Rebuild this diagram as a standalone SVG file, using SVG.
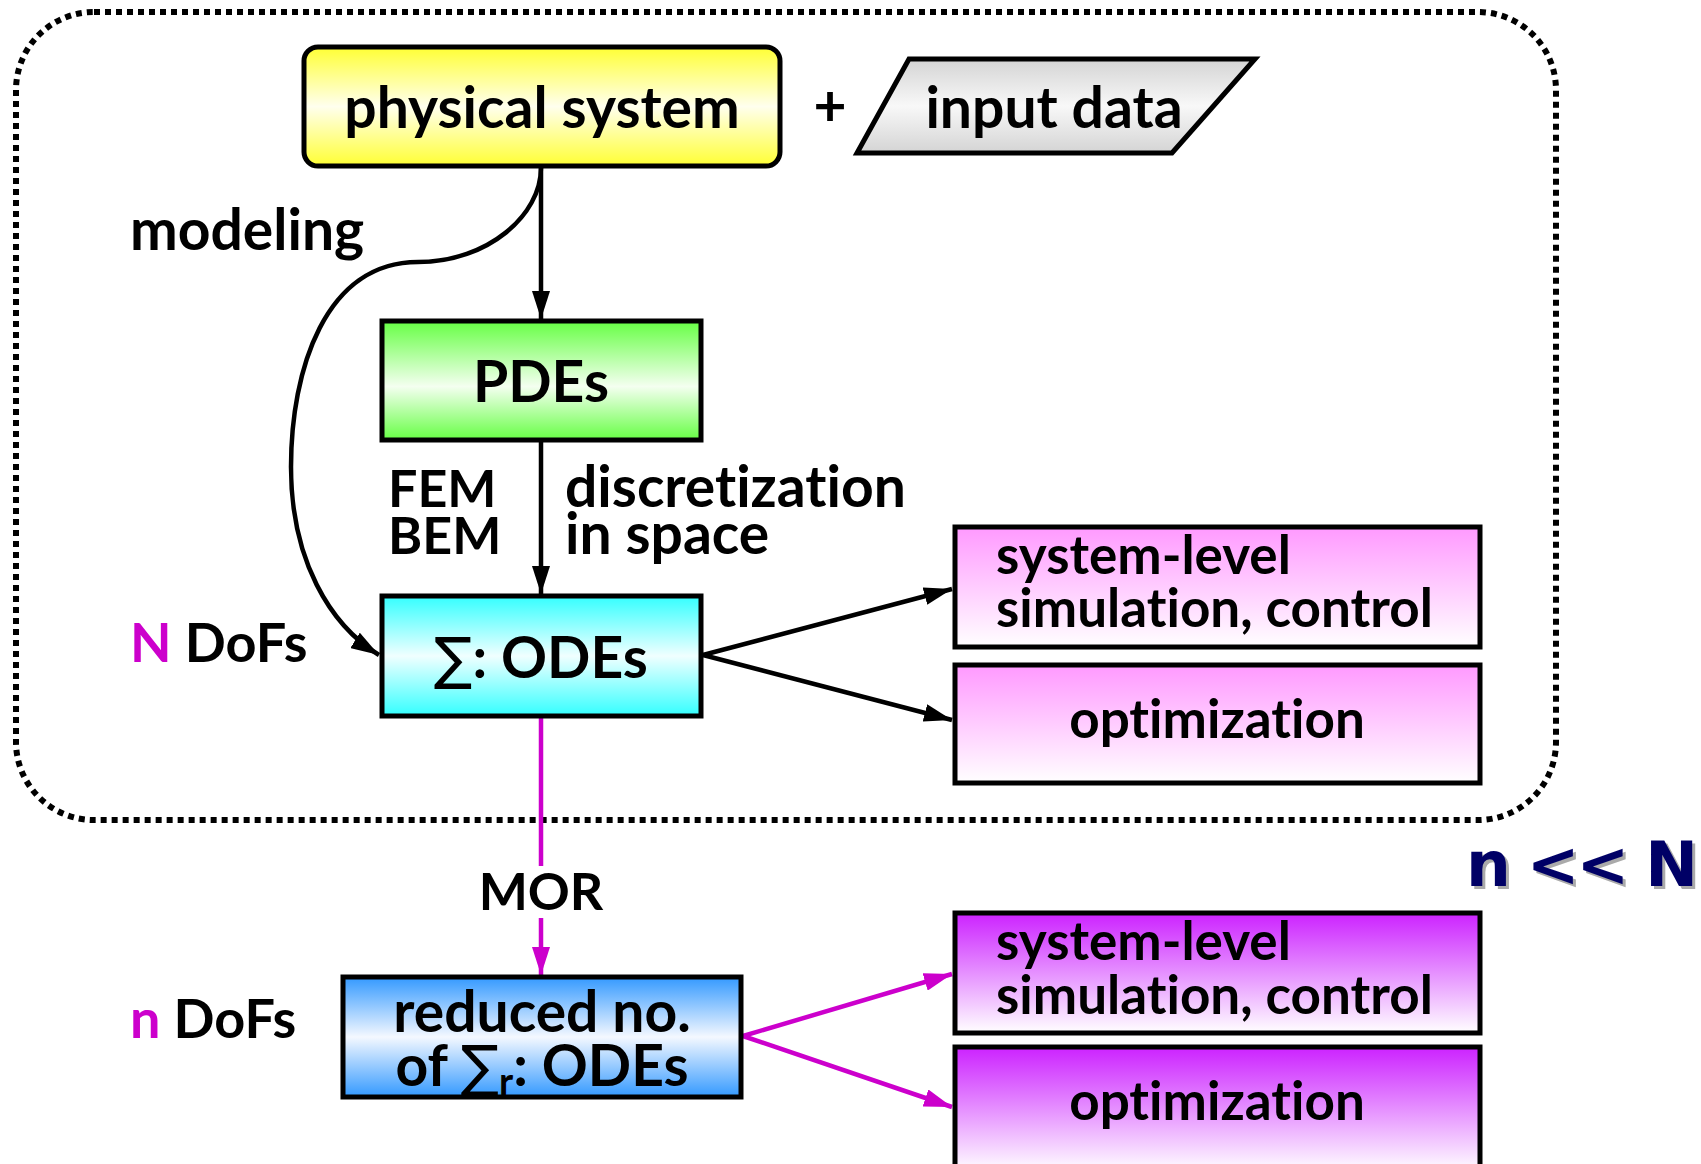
<svg xmlns="http://www.w3.org/2000/svg" width="1701" height="1164" viewBox="0 0 1701 1164">
<defs>
<linearGradient id="gYellow" x1="0" y1="0" x2="0" y2="1"><stop offset="0" stop-color="#ffff33"/><stop offset="0.5" stop-color="#ffffee"/><stop offset="1" stop-color="#ffff33"/></linearGradient>
<linearGradient id="gGrey" x1="0" y1="0" x2="0" y2="1"><stop offset="0" stop-color="#d4d4d4"/><stop offset="0.5" stop-color="#f8f8f8"/><stop offset="1" stop-color="#d4d4d4"/></linearGradient>
<linearGradient id="gGreen" x1="0" y1="0" x2="0" y2="1"><stop offset="0" stop-color="#66ff44"/><stop offset="0.55" stop-color="#f4fff0"/><stop offset="1" stop-color="#66ff44"/></linearGradient>
<linearGradient id="gCyan" x1="0" y1="0" x2="0" y2="1"><stop offset="0" stop-color="#33ffff"/><stop offset="0.5" stop-color="#f0ffff"/><stop offset="1" stop-color="#33ffff"/></linearGradient>
<linearGradient id="gBlue" x1="0" y1="0" x2="0" y2="1"><stop offset="0" stop-color="#3399ff"/><stop offset="0.5" stop-color="#f4f8ff"/><stop offset="1" stop-color="#3399ff"/></linearGradient>
<linearGradient id="gPink" x1="0" y1="0" x2="0" y2="1"><stop offset="0" stop-color="#ff99ff"/><stop offset="1" stop-color="#ffffff"/></linearGradient>
<linearGradient id="gPurple" x1="0" y1="0" x2="0" y2="1"><stop offset="0" stop-color="#cc22ff"/><stop offset="1" stop-color="#ffffff"/></linearGradient>
<marker id="aK" viewBox="0 0 28 18" refX="28" refY="9" markerWidth="28" markerHeight="18" markerUnits="userSpaceOnUse" orient="auto"><path d="M0,0 L28,9 L0,18 Z" fill="#000"/></marker>
<marker id="aM" viewBox="0 0 28 18" refX="28" refY="9" markerWidth="28" markerHeight="18" markerUnits="userSpaceOnUse" orient="auto"><path d="M0,0 L28,9 L0,18 Z" fill="#cc00cc"/></marker>
</defs>
<style>
text{font-family:"Lato","Open Sans","DejaVu Sans",sans-serif;font-weight:bold;fill:#000;font-variant-ligatures:none;font-feature-settings:"liga" 0,"dlig" 0}
.big{font-size:57px}
.mid{font-size:53px}
.lab{font-size:52px}
.sig{font-family:"DejaVu Sans",sans-serif;font-weight:normal}
.box{stroke:#000;stroke-width:5}
.ck{fill:none;stroke:#000;stroke-width:4.5}
.cm{fill:none;stroke:#cc00cc;stroke-width:4.5}
.mag{fill:#cc00cc}
.nn{font-family:"DejaVu Sans","Verdana",sans-serif;font-weight:bold;font-size:63px;letter-spacing:-3px}
</style>
<rect x="16" y="12" width="1540" height="808" rx="78" ry="78" fill="none" stroke="#000" stroke-width="6" stroke-dasharray="6 5"/>
<g id="connectors">
<path class="ck" d="M541,166 L541,319" marker-end="url(#aK)"/>
<path class="ck" d="M541,440 L541,594" marker-end="url(#aK)"/>
<path class="ck" d="M541,168 C541,215 488,262 418,262 C325,262 291,370 291,467 C291,560 330,625 379,655" marker-end="url(#aK)"/>
<path class="ck" d="M703,655 L952,589" marker-end="url(#aK)"/>
<path class="ck" d="M703,655 L952,720" marker-end="url(#aK)"/>
<path class="cm" d="M541,716 L541,866"/>
<path class="cm" d="M541,918 L541,975" marker-end="url(#aM)"/>
<path class="cm" d="M743,1036 L952,974" marker-end="url(#aM)"/>
<path class="cm" d="M743,1036 L952,1107" marker-end="url(#aM)"/>
</g>
<g id="physical-system">
<rect class="box" x="304" y="47" width="476" height="119" rx="14" ry="14" fill="url(#gYellow)"/>
<text class="big" x="542" y="128" text-anchor="middle">physical system</text>
</g>
<g id="plus"><text class="big" x="830" y="126" text-anchor="middle">+</text></g>
<g id="input-data">
<polygon class="box" points="909,59 1255,59 1172,153 857,153" fill="url(#gGrey)"/>
<text class="big" x="1054" y="128" text-anchor="middle">input data</text>
</g>
<g id="modeling-label"><text class="big" x="130" y="250">modeling</text></g>
<g id="pdes">
<rect class="box" x="382" y="321" width="319" height="119" fill="url(#gGreen)"/>
<text class="big" x="541" y="402" text-anchor="middle">PDEs</text>
</g>
<g id="fem-label"><text class="lab" x="388" y="507">FEM<tspan x="388" y="554">BEM</tspan></text></g>
<g id="discretization-label"><text class="big" x="565" y="507">discretization<tspan x="565" y="554">in space</tspan></text></g>
<g id="odes">
<rect class="box" x="382" y="596" width="319" height="120" fill="url(#gCyan)"/>
<text class="big" x="541" y="678" text-anchor="middle"><tspan class="sig">∑</tspan>: ODEs</text>
</g>
<g id="N-dofs"><text class="big" x="130" y="662" style="font-size:54px"><tspan class="mag">N</tspan> DoFs</text></g>
<g id="sim1">
<rect class="box" x="955" y="527" width="525" height="120" fill="url(#gPink)"/>
<text class="mid" x="996" y="574">system-level<tspan x="996" y="627">simulation, control</tspan></text>
</g>
<g id="opt1">
<rect class="box" x="955" y="665" width="525" height="118" fill="url(#gPink)"/>
<text class="mid" x="1217" y="738" text-anchor="middle">optimization</text>
</g>
<g id="mor-label"><text class="lab" x="541" y="910" text-anchor="middle">MOR</text></g>
<g id="nN-label">
<text class="nn" x="1469" y="889" style="fill:#aaaaaa">n &lt;&lt; N</text>
<text class="nn" x="1466" y="886" style="fill:#000066">n &lt;&lt; N</text>
</g>
<g id="reduced">
<rect class="box" x="343" y="977" width="398" height="120" fill="url(#gBlue)"/>
<text class="big" x="542" y="1032" text-anchor="middle">reduced no.<tspan x="542" y="1086">of <tspan class="sig">∑</tspan><tspan font-size="38" dy="9">r</tspan><tspan dy="-9">: ODEs</tspan></tspan></text>
</g>
<g id="n-dofs"><text class="big" x="130" y="1038" style="font-size:54px"><tspan class="mag">n</tspan> DoFs</text></g>
<g id="sim2">
<rect class="box" x="955" y="913" width="525" height="120" fill="url(#gPurple)"/>
<text class="mid" x="996" y="960">system-level<tspan x="996" y="1014">simulation, control</tspan></text>
</g>
<g id="opt2">
<rect class="box" x="955" y="1047" width="525" height="125" fill="url(#gPurple)"/>
<text class="mid" x="1217" y="1120" text-anchor="middle">optimization</text>
</g>
</svg>
